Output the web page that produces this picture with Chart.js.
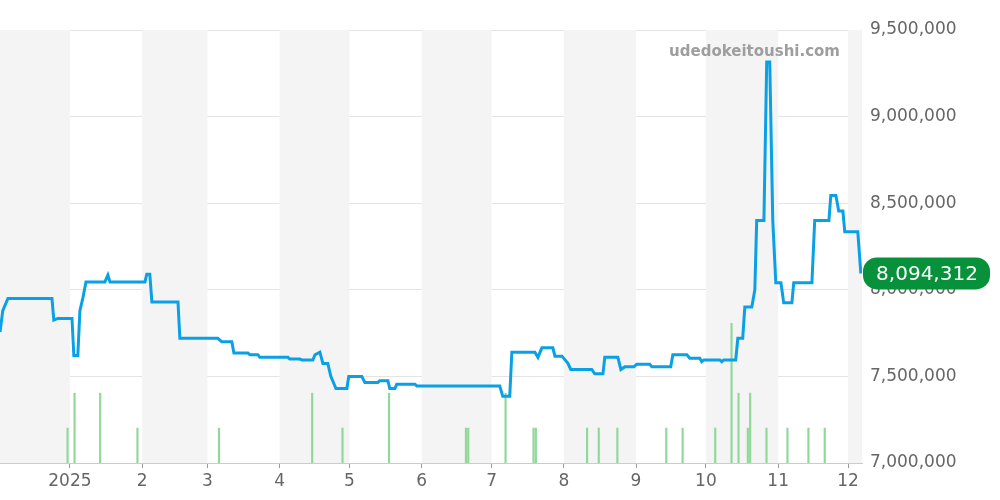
<!DOCTYPE html>
<html><head><meta charset="utf-8">
<script src="https://cdn.jsdelivr.net/npm/chart.js@4/dist/chart.umd.min.js"></script>
<style>html,body{margin:0;padding:0;background:#fff}</style>
</head><body><canvas id="c" width="1000" height="500"></canvas>
<script>
// days since 2025-01-01
const priceDays=[-30,-28.8,-26.6,-7.7,-6.9,-5.2,0.9,1.7,3.4,4.3,5.6,6.9,15,16.3,17.2,32.2,33,34.3,35.2,46.4,47.2,63.5,65.2,69.5,70.4,76.4,77.3,80.7,81.5,93.6,94.4,98.7,99.6,104.3,105.2,107.3,108.6,110.7,112,114.2,118.9,119.7,125.3,126.6,132.2,133,136.5,137.3,139.5,140.3,148.1,148.9,184.5,185.8,188.8,189.7,199.6,200.9,202.6,207.3,208.2,211.2,213.7,215,224,225.3,228.8,229.6,235.2,236.5,238.2,242.1,243.3,248.9,249.8,257.9,258.8,264.8,266.1,270.4,271.2,272.1,279,279.8,280.7,285.8,286.7,288.8,289.7,292.7,294,294.8,297.9,299.1,300.4,301.7,303,305.2,306.4,309.9,310.7,318.5,319.7,325.8,326.6,328.8,330,331.8,332.6,338.2,339.5];
const priceVals=[7756000,7880000,7950000,7950000,7825000,7835000,7835000,7620000,7620000,7880000,7955000,8045000,8045000,8085000,8045000,8045000,8090000,8090000,7930000,7930000,7720000,7720000,7700000,7700000,7635000,7635000,7625000,7625000,7610000,7610000,7600000,7600000,7595000,7595000,7625000,7640000,7575000,7575000,7500000,7430000,7430000,7500000,7500000,7465000,7465000,7475000,7475000,7430000,7430000,7455000,7455000,7445000,7445000,7385000,7385000,7640000,7640000,7610000,7665000,7665000,7617000,7617000,7577000,7540000,7540000,7515000,7515000,7610000,7610000,7540000,7555000,7555000,7570000,7570000,7555000,7555000,7625000,7625000,7605000,7605000,7585000,7595000,7595000,7585000,7595000,7595000,7720000,7720000,7900000,7900000,8000000,8400000,8400000,9315000,9315000,8400000,8040000,8040000,7925000,7925000,8040000,8040000,8400000,8400000,8545000,8545000,8455000,8455000,8335000,8335000,8094312];
const volDays=[-1,2,13,29,64,104,117,137,170,171,187,199,200,222,227,235,256,263,277,284,287,291,292,299,308,317,324];
const volVals=[1,2,2,1,1,2,1,2,1,1,2,1,1,1,1,1,1,1,1,4,2,1,2,1,1,1,1];
const monthStarts=[-31,0,31,59,90,120,151,181,212,243,273,304,334,365];
const monthLabels=['','2025','2','3','4','5','6','7','8','9','10','11','12'];
const yTicks=[7000000,7500000,8000000,8500000,9000000,9500000];
const lastPrice=8094312;

const bands={id:'bands',beforeDatasetsDraw(ch){const{ctx,chartArea:a,scales:{x}}=ch;ctx.save();
for(let i=0;i<monthStarts.length-1;i++){if(i%2)continue;const l=Math.max(a.left,x.getPixelForValue(monthStarts[i])),r=Math.min(a.right,x.getPixelForValue(monthStarts[i+1]));if(r>l){ctx.fillStyle='#f4f4f4';ctx.fillRect(l,a.top,r-l,a.bottom-a.top);}}
ctx.restore();},
afterDraw(ch){const{ctx,chartArea:a,scales:{y}}=ch;ctx.save();
ctx.font='bold 15px "DejaVu Sans"';ctx.fillStyle='#9e9e9e';ctx.textAlign='right';ctx.textBaseline='middle';ctx.fillText('udedokeitoushi.com',840,52);
const py=y.getPixelForValue(lastPrice);ctx.fillStyle='#07913a';ctx.beginPath();ctx.roundRect(863,py-16,127,32,14);ctx.fill();
ctx.fillStyle='#fff';ctx.font='20px "DejaVu Sans"';ctx.textAlign='center';ctx.fillText(lastPrice.toLocaleString('en-US'),927,py+1);ctx.restore();}};

new Chart(document.getElementById('c'),{
data:{datasets:[
{type:'line',data:priceDays.map((d,i)=>({x:d,y:priceVals[i]})),borderColor:'#0aa0e6',borderWidth:3,pointRadius:0,tension:0,yAxisID:'y',order:1},
{type:'bar',data:volDays.map((d,i)=>({x:d,y:volVals[i]})),backgroundColor:'#8fd89a',barThickness:1.5,yAxisID:'y2',order:2}
]},
plugins:[bands],
options:{responsive:false,animation:false,devicePixelRatio:1,
layout:{padding:{top:30,right:0,left:0,bottom:0}},
plugins:{legend:{display:false},tooltip:{enabled:false}},
scales:{
x:{type:'linear',offset:false,min:-30,max:340,afterBuildTicks(s){s.ticks=monthStarts.slice(1,13).map(v=>({value:v}));},
afterFit(s){s.height=37;},
ticks:{autoSkip:false,maxRotation:0,color:'#666',font:{size:17,family:'DejaVu Sans'},callback:v=>monthLabels[monthStarts.indexOf(v)]},
grid:{display:true,offset:false,drawOnChartArea:false,tickLength:5,color:'#999'},border:{color:'#ccc'}},
y:{position:'right',min:7000000,max:9500000,afterBuildTicks(s){s.ticks=yTicks.map(v=>({value:v}));},
afterFit(s){s.width=138;},
ticks:{color:'#666',padding:8,font:{size:17,family:'DejaVu Sans'},callback:v=>v.toLocaleString('en-US')},
grid:{color:'#e4e4e4',drawTicks:false},border:{display:false}},
y2:{display:false,min:0,max:12.4}
}}});
</script></body></html>
